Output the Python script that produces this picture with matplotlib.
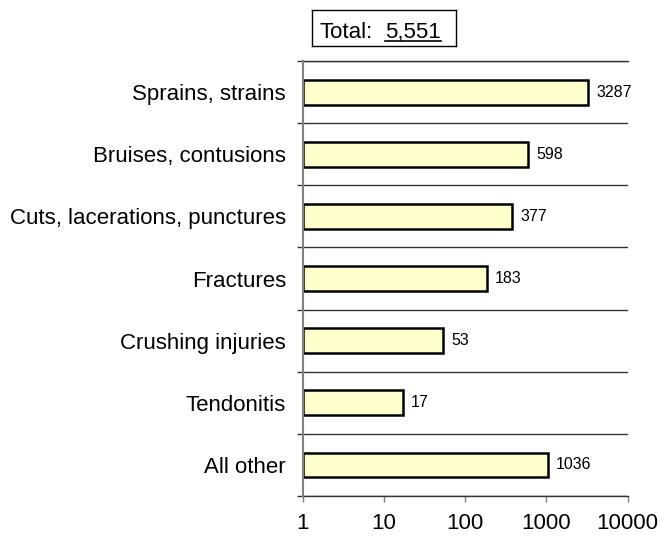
import numpy as np
import matplotlib.pyplot as plt

plt.rcParams['font.family'] = ['Liberation Sans', 'DejaVu Sans']

categories = ["Sprains, strains", "Bruises, contusions", "Cuts, lacerations, punctures",
              "Fractures", "Crushing injuries", "Tendonitis", "All other"]
counts = [3287, 598, 377, 183, 53, 17, 1036]
total_label = "5,551"
x_ticks = [1, 10, 100, 1000, 10000]

W, H = 668, 539
fig = plt.figure(figsize=(W / 100, H / 100), dpi=100)
ax = fig.add_axes([302.7 / W, 1 - 496 / H, 325 / W, 435 / H])

y = np.arange(len(categories))
ax.barh(y, [c - 1 for c in counts], left=1, height=0.4,
        color="#FFFFCC", edgecolor="black", linewidth=1.8, zorder=3)

for yi, c in zip(y, counts):
    ax.annotate(str(c), (c, yi), xytext=(6, 0), textcoords="offset points",
                va="center", ha="left", fontsize=11.5)

ax.set_xscale("log")
ax.set_xlim(1, 10000)
ax.set_ylim(len(categories) - 0.5, -0.5)
ax.set_xticks(x_ticks)
ax.set_xticklabels([str(t) for t in x_ticks])
ax.xaxis.set_minor_locator(plt.NullLocator())
ax.tick_params(axis="x", which="major", direction="out", length=4.5, width=1,
               color="#808080", labelsize=16, pad=8)

ax.set_yticks(y)
ax.set_yticklabels(categories)
ax.tick_params(axis="y", which="major", length=0, labelsize=16, pad=12)
ax.set_yticks(np.arange(-0.5, len(categories)), minor=True)
ax.tick_params(axis="y", which="minor", direction="out", length=4.5, width=1,
               color="#333333")
ax.grid(axis="y", which="minor", color="#333333", linewidth=1, zorder=1)

ax.spines["right"].set_visible(False)
for side in ["top", "bottom"]:
    ax.spines[side].set_color("#333333")
    ax.spines[side].set_linewidth(1)
ax.spines["left"].set_color("#808080")
ax.spines["left"].set_linewidth(1.5)
ax.spines["left"].set_zorder(4)

# total box above the plot, with the number underlined
box_ax = fig.add_axes([311.7 / W, 1 - 46 / H, 144 / W, 36 / H])
box_ax.set_xticks([])
box_ax.set_yticks([])
for s in box_ax.spines.values():
    s.set_linewidth(1)
    s.set_color("black")
box_ax.set_xlim(0, 1)
box_ax.set_ylim(0, 1)

base_y = 1 - 38 / H
fig.text(320 / W, base_y, "Total:", fontsize=16, va="baseline", ha="left")
num = fig.text(385 / W, base_y, total_label, fontsize=16, va="baseline", ha="left")
fig.canvas.draw()
bb = num.get_window_extent().transformed(fig.transFigure.inverted())
line_y = 1 - 40.7 / H
fig.add_artist(plt.Line2D([bb.x0, bb.x1], [line_y, line_y], color="black",
                          linewidth=1.2, transform=fig.transFigure))

fig.savefig("out.png", dpi=100)
